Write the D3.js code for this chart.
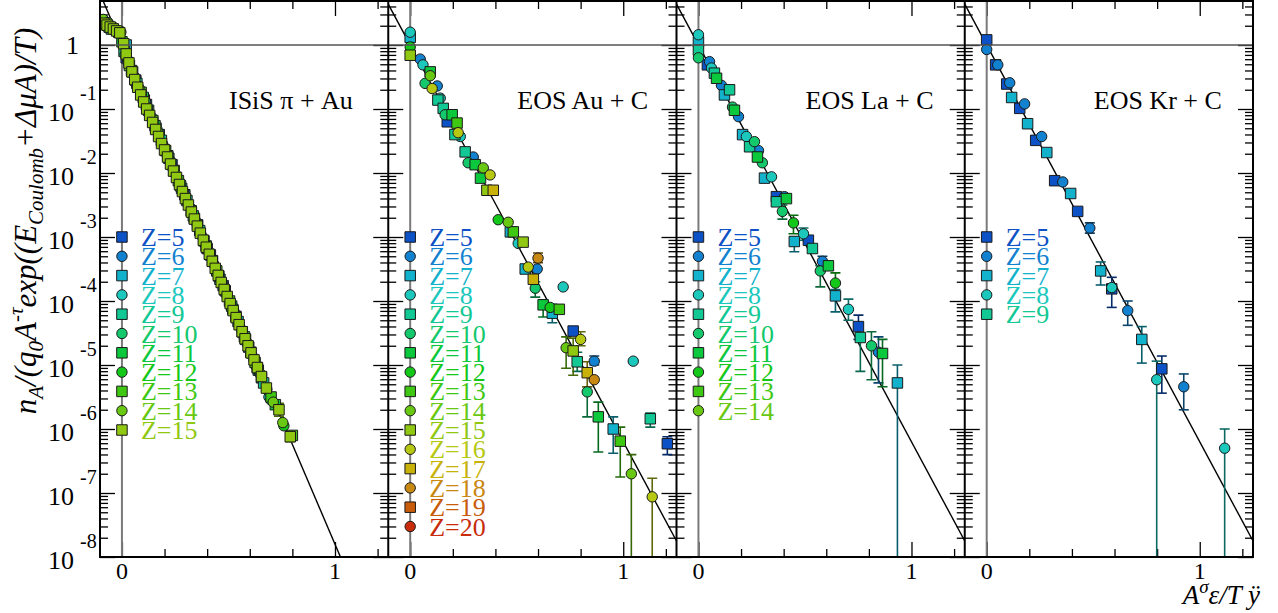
<!DOCTYPE html>
<html>
<head>
<meta charset="utf-8">
<script src="https://cdn.jsdelivr.net/npm/d3@7"></script>
<style>
body { margin: 0; background: #fff; }
svg { display: block; }
svg text { font-family: "Liberation Serif", "Times New Roman", Times, serif; }
</style>
</head>
<body>
<div id="chart"></div>
<script>
// ---- data ----
var panelTitles = ["ISiS \u03c0 + Au", "EOS Au + C", "EOS La + C", "EOS Kr + C"];
var legendMaxZ = [15, 20, 14, 9];
var fitIntercept = [0.0, 0.0, 0.0, 0.0];   // log10 at x = 0
var fitSlope = [-7.8, -6.2, -6.2, -6.2];   // decades per unit
var xTickLabels = ["0", "1"];
var yTickExps = [0, -1, -2, -3, -4, -5, -6, -7, -8];
var zColors = ["#0c52c6", "#1282d0", "#12b2cc", "#1cc8bc", "#12c894", "#14c86c",
               "#0cc83c", "#14c81a", "#3ec812", "#68c812", "#90c812", "#b6c812",
               "#c8b20a", "#c88812", "#c85c0a", "#c82c0a"];   // Z = 5 .. 20

// rows: [Z, x, log10(n), errLow, errHigh]
var isisPoints = [
  [5,0.02,-0.2],[5,0.065,-0.55],[5,0.115,-0.93],[5,0.175,-1.4],[5,0.235,-1.87],[5,0.295,-2.34],[5,0.355,-2.81],[5,0.415,-3.28],[5,0.475,-3.76],[5,0.535,-4.24],[5,0.595,-4.72],[5,0.655,-5.2],
  [6,0.03,-0.28],[6,0.085,-0.7],[6,0.14,-1.13],[6,0.2,-1.6],[6,0.26,-2.07],[6,0.32,-2.54],[6,0.38,-3.01],[6,0.44,-3.48],[6,0.5,-3.96],[6,0.56,-4.44],[6,0.62,-4.92],
  [7,0.02,0.0],[7,0.05,-0.42],[7,0.105,-0.86],[7,0.16,-1.3],[7,0.22,-1.77],[7,0.28,-2.24],[7,0.34,-2.71],[7,0.4,-3.18],[7,0.46,-3.66],[7,0.52,-4.13],[7,0.58,-4.6],[7,0.64,-5.08],
  [8,-0.02,0.2],[8,0.04,-0.36],[8,0.095,-0.8],[8,0.15,-1.22],[8,0.21,-1.7],[8,0.27,-2.17],[8,0.33,-2.64],[8,0.39,-3.11],[8,0.45,-3.58],[8,0.51,-4.06],[8,0.57,-4.54],[8,0.63,-5.02],[8,0.69,-5.5],
  [9,-0.05,0.25],[9,0.01,-0.1],[9,0.07,-0.6],[9,0.125,-1.02],[9,0.185,-1.49],[9,0.245,-1.96],[9,0.305,-2.43],[9,0.365,-2.9],[9,0.425,-3.37],[9,0.485,-3.84],[9,0.545,-4.32],[9,0.605,-4.8],[9,0.665,-5.28],
  [10,-0.08,0.3],[10,-0.03,0.22],[10,0.015,-0.15],[10,0.06,-0.5],[10,0.11,-0.88],[10,0.165,-1.32],[10,0.225,-1.8],[10,0.285,-2.27],[10,0.345,-2.74],[10,0.405,-3.21],[10,0.465,-3.68],[10,0.525,-4.16],[10,0.585,-4.64],[10,0.645,-5.12],[10,0.7,-5.55],
  [11,-0.06,0.28],[11,0.0,0.05],[11,0.045,-0.4],[11,0.1,-0.82],[11,0.155,-1.26],[11,0.215,-1.73],[11,0.275,-2.2],[11,0.335,-2.67],[11,0.395,-3.14],[11,0.455,-3.61],[11,0.515,-4.08],[11,0.575,-4.56],[11,0.635,-5.04],[11,0.72,-5.62],
  [12,-0.09,0.36],[12,-0.04,0.26],[12,0.025,-0.22],[12,0.075,-0.64],[12,0.13,-1.07],[12,0.19,-1.54],[12,0.25,-2.01],[12,0.31,-2.48],[12,0.37,-2.95],[12,0.43,-3.42],[12,0.49,-3.9],[12,0.55,-4.37],[12,0.61,-4.85],[12,0.68,-5.38],[12,0.76,-5.95],
  [13,-0.075,0.33],[13,-0.015,0.2],[13,0.035,-0.32],[13,0.09,-0.74],[13,0.145,-1.18],[13,0.205,-1.65],[13,0.265,-2.12],[13,0.325,-2.59],[13,0.385,-3.06],[13,0.445,-3.53],[13,0.505,-4.0],[13,0.565,-4.48],[13,0.625,-4.96],[13,0.7,-5.5],[13,0.8,-6.1],
  [14,-0.088,0.4],[14,-0.065,0.35],[14,-0.035,0.27],[14,-0.005,0.2],[14,0.03,-0.27],[14,0.08,-0.68],[14,0.12,-0.98],[14,0.17,-1.37],[14,0.23,-1.84],[14,0.29,-2.31],[14,0.35,-2.78],[14,0.41,-3.25],[14,0.47,-3.72],[14,0.53,-4.2],[14,0.59,-4.68],[14,0.65,-5.14],[14,0.71,-5.58],[14,0.755,-5.9],
  [15,-0.085,0.34],[15,-0.07,0.31],[15,-0.055,0.28],[15,-0.04,0.25],[15,-0.025,0.22],[15,-0.01,0.19],[15,0.008,0.02],[15,0.02,-0.14],
  [15,0.033,-0.28],[15,0.047,-0.42],[15,0.06,-0.54],[15,0.074,-0.66],[15,0.088,-0.78],[15,0.102,-0.89],[15,0.116,-1.0],[15,0.13,-1.1],
  [15,0.144,-1.21],[15,0.158,-1.32],[15,0.172,-1.43],[15,0.186,-1.54],[15,0.2,-1.64],[15,0.214,-1.75],[15,0.228,-1.86],[15,0.242,-1.97],
  [15,0.256,-2.07],[15,0.27,-2.18],[15,0.284,-2.29],[15,0.298,-2.4],[15,0.312,-2.5],[15,0.326,-2.61],[15,0.34,-2.72],[15,0.354,-2.83],
  [15,0.368,-2.94],[15,0.382,-3.05],[15,0.396,-3.16],[15,0.41,-3.27],[15,0.424,-3.38],[15,0.438,-3.49],[15,0.452,-3.6],[15,0.466,-3.71],
  [15,0.48,-3.82],[15,0.494,-3.93],[15,0.508,-4.04],[15,0.522,-4.15],[15,0.536,-4.26],[15,0.55,-4.37],[15,0.564,-4.48],[15,0.578,-4.59],
  [15,0.592,-4.7],[15,0.606,-4.81],[15,0.62,-4.92],[15,0.636,-5.04],[15,0.655,-5.18],[15,0.678,-5.36],[15,0.737,-5.7,-5.8,-5.6],[15,0.79,-6.12,-6.2,-6.04]
];

var auPoints = [
  [8,0,0.2],[7,0,0.12],[12,0,-0.03],[15,0,-0.16],
  [6,0.047,-0.22],[8,0.06,-0.31],[11,0.094,-0.42],[14,0.094,-0.48],[10,0.07,-0.6],[6,0.127,-0.64],
  [16,0.103,-0.68],[8,0.141,-0.83],[9,0.13,-0.86],[9,0.155,-0.99],[10,0.164,-1.09],[11,0.197,-1.09],
  [5,0.174,-1.2],[13,0.22,-1.22],[16,0.225,-1.37],[9,0.21,-1.4],[8,0.235,-1.43],[9,0.258,-1.67],
  [6,0.296,-1.75],[10,0.272,-1.84],[11,0.305,-1.87],[14,0.343,-1.92],[16,0.375,-2.03],[11,0.33,-2.08],
  [15,0.36,-2.27],[17,0.39,-2.27],[12,0.413,-2.73],[14,0.46,-2.77],[7,0.47,-2.92],[13,0.484,-2.92],
  [8,0.507,-3.1],[15,0.53,-3.08],[18,0.6,-3.33,-3.4,-3.25],[16,0.554,-3.47],[7,0.54,-3.5],[6,0.596,-3.5],
  [17,0.578,-3.66],[10,0.587,-3.8,-3.94,-3.7],[8,0.718,-3.78],[11,0.624,-4.06,-4.25,-3.98],[12,0.657,-4.1],
  [7,0.667,-4.19,-4.34,-4.05],[13,0.7,-4.13],[5,0.765,-4.47],[16,0.8,-4.6,-4.7,-4.48],[14,0.732,-4.73,-5.05,-4.56],
  [15,0.765,-4.78,-5.16,-4.58],[9,0.784,-4.95,-5.1,-4.8],[6,0.864,-4.94,-5.0,-4.86],[8,1.047,-4.94],
  [17,0.831,-5.12,-5.34,-4.95],[18,0.864,-5.23],[10,0.831,-5.42,-5.81,-5.34],[11,0.883,-5.81,-6.36,-5.58],
  [9,1.127,-5.84,-5.97,-5.75],[7,0.953,-6.0,-6.38,-5.81],[13,0.986,-6.19,-6.75,-5.97],[5,1.207,-6.23,-6.4,-6.12],
  [14,1.038,-6.7,-9,-6.4],[16,1.136,-7.06,-9,-6.77]
];

var laPoints = [
  [8,0,0.16],[7,0,0.05],[9,0,-0.08],[10,0,-0.2],[6,0.052,-0.26],[5,0.042,-0.31],[8,0.061,-0.36],
  [9,0.075,-0.44],[11,0.085,-0.52],[6,0.108,-0.63],[7,0.122,-0.78],[9,0.146,-0.7],[10,0.16,-0.97],
  [11,0.169,-1.02],[6,0.188,-1.12],[7,0.207,-1.4],[8,0.225,-1.43],[10,0.263,-1.51],[9,0.24,-1.59],
  [6,0.282,-1.65],[11,0.277,-1.75],[10,0.3,-1.84],[7,0.31,-2.08],[8,0.343,-2.06],[5,0.366,-2.37],
  [6,0.404,-2.37],[11,0.413,-2.4],[9,0.366,-2.45],[10,0.394,-2.6,-2.72,-2.5],[12,0.446,-2.78,-2.95,-2.66],
  [8,0.493,-2.95,-3.05,-2.86],[7,0.45,-3.07,-3.23,-3.0],[5,0.516,-3.05],[9,0.535,-3.18],
  [6,0.582,-3.38,-3.45,-3.3],[11,0.61,-3.45],[10,0.572,-3.53,-3.78,-3.45],[12,0.643,-3.72,-3.88,-3.56],
  [7,0.643,-3.92,-4.17,-3.82],[8,0.704,-4.13,-4.3,-3.97],[5,0.751,-4.4,-4.6,-4.22],[9,0.76,-4.57,-5.1,-4.5],
  [10,0.812,-4.7,-5.23,-4.48],[6,0.845,-4.8,-5.28,-4.56],[11,0.864,-4.82,-5.34,-4.6],[7,0.934,-5.28,-9,-5.0]
];

var krPoints = [
  [5,0,0.08],[6,0,-0.07],[5,0.042,-0.31],[6,0.052,-0.31],[5,0.094,-0.61],[6,0.108,-0.59],
  [7,0.117,-0.82],[6,0.178,-0.92],[5,0.155,-0.99],[7,0.192,-1.23],[6,0.258,-1.43],[5,0.23,-1.49],
  [7,0.282,-1.68],[5,0.319,-2.12],[6,0.357,-2.14],[7,0.394,-2.32],[5,0.427,-2.6],
  [6,0.484,-2.86,-2.94,-2.78],[7,0.535,-3.53,-3.75,-3.39],[5,0.587,-3.81,-4.1,-3.63],[8,0.587,-3.79],
  [6,0.662,-4.15,-4.38,-4.0],[7,0.728,-4.6,-4.97,-4.4],[5,0.822,-5.06,-5.44,-4.86],[8,0.798,-5.23,-9,-4.94],
  [6,0.925,-5.34,-5.7,-5.14],[8,1.117,-6.3,-9,-6.0]
];

var panelPoints = [isisPoints, auPoints, laPoints, krPoints];

// ---- layout ----
var W = 1278, H = 613;
var frameLeft = 100, frameRight = 1253, frameTop = 1, frameBottom = 557;
var panelW = (frameRight - frameLeft) / 4;

var svg = d3.select("#chart").append("svg")
    .attr("width", W)
    .attr("height", H)
    .attr("font-family", "'Liberation Serif', 'Times New Roman', Times, serif");

var y = d3.scaleLog()
    .domain([1e-8, Math.pow(10, 0.6875)])
    .range([frameBottom, frameTop]);

var minorY = [];
for (var e = -8; e <= 0; e++) {
    for (var m = 2; m <= 9; m++) {
        var v = m * Math.pow(10, e);
        if (v < y.domain()[1]) minorY.push(v);
    }
}
var majorY = yTickExps.map(function(d) { return Math.pow(10, d); });

function zColor(z) { return zColors[z - 5]; }

svg.append("defs").selectAll("clipPath")
    .data(d3.range(4))
    .enter().append("clipPath")
    .attr("id", function(d) { return "clip" + d; })
    .append("rect")
    .attr("x", function(d) { return frameLeft + d * panelW; })
    .attr("y", frameTop)
    .attr("width", panelW)
    .attr("height", frameBottom - frameTop);

d3.range(4).forEach(function(p) {
    var L = frameLeft + p * panelW, R = L + panelW;
    var x = d3.scaleLinear().domain([-0.103, 1.25]).range([L, R]);
    var g = svg.append("g");

    // ticks, all pointing inward
    function tickAxis(axis, vals, size, tr) {
        g.append("g")
            .attr("transform", tr)
            .call(axis.tickValues(vals).tickSize(size).tickFormat(""))
            .call(function(s) { s.select(".domain").remove(); })
            .selectAll("line").attr("stroke", "#000").attr("stroke-width", 1.3);
    }
    tickAxis(d3.axisRight(y), majorY, 15, "translate(" + L + ",0)");
    tickAxis(d3.axisRight(y), minorY, 8, "translate(" + L + ",0)");
    tickAxis(d3.axisLeft(y), majorY, 15, "translate(" + R + ",0)");
    tickAxis(d3.axisLeft(y), minorY, 8, "translate(" + R + ",0)");
    tickAxis(d3.axisTop(x), [0, 1], 15, "translate(0," + frameBottom + ")");
    tickAxis(d3.axisTop(x), [0.2, 0.4, 0.6, 0.8, 1.2], 8, "translate(0," + frameBottom + ")");
    tickAxis(d3.axisBottom(x), [0, 1], 15, "translate(0," + frameTop + ")");
    tickAxis(d3.axisBottom(x), [0.2, 0.4, 0.6, 0.8, 1.2], 8, "translate(0," + frameTop + ")");

    // x = 0 reference line
    g.append("line")
        .attr("x1", x(0)).attr("x2", x(0))
        .attr("y1", frameTop).attr("y2", frameBottom)
        .attr("stroke", "#7a7a7a").attr("stroke-width", 2);

    // x tick labels
    g.selectAll(".xlab")
        .data(xTickLabels)
        .enter().append("text")
        .attr("x", function(d) { return x(+d); })
        .attr("y", frameBottom + 22)
        .attr("text-anchor", "middle")
        .style("font-size", "24px")
        .text(function(d) { return d; });

    var inner = g.append("g").attr("clip-path", "url(#clip" + p + ")");

    // fit line
    var fx = [-0.103, 1.25];
    inner.append("path")
        .datum(fx)
        .attr("d", d3.line()
            .x(function(d) { return x(d); })
            .y(function(d) { return y(Math.pow(10, fitIntercept[p] + fitSlope[p] * d)); }))
        .attr("fill", "none")
        .attr("stroke", "#000")
        .attr("stroke-width", 1.4);

    var pts = panelPoints[p].slice().sort(function(a, b) { return a[0] - b[0]; });

    // error bars
    var eb = inner.selectAll(".err")
        .data(pts.filter(function(d) { return d.length > 3; }))
        .enter().append("g")
        .attr("stroke", function(d) { return d3.color(zColor(d[0])).darker(1.8); })
        .attr("stroke-width", 1.6);
    eb.append("line")
        .attr("x1", function(d) { return x(d[1]); })
        .attr("x2", function(d) { return x(d[1]); })
        .attr("y1", function(d) { return y(Math.pow(10, d[3])); })
        .attr("y2", function(d) { return y(Math.pow(10, d[4])); });
    eb.append("line")
        .attr("x1", function(d) { return x(d[1]) - 5; })
        .attr("x2", function(d) { return x(d[1]) + 5; })
        .attr("y1", function(d) { return y(Math.pow(10, d[4])); })
        .attr("y2", function(d) { return y(Math.pow(10, d[4])); });
    eb.filter(function(d) { return d[3] > -8.5; }).append("line")
        .attr("x1", function(d) { return x(d[1]) - 5; })
        .attr("x2", function(d) { return x(d[1]) + 5; })
        .attr("y1", function(d) { return y(Math.pow(10, d[3])); })
        .attr("y2", function(d) { return y(Math.pow(10, d[3])); });

    // markers
    inner.selectAll(".pt")
        .data(pts)
        .enter().append("path")
        .attr("transform", function(d) {
            return "translate(" + x(d[1]) + "," + y(Math.pow(10, d[2])) + ")";
        })
        .attr("d", function(d) {
            return d[0] % 2 ? d3.symbol(d3.symbolSquare, 110)() : d3.symbol(d3.symbolCircle, 85)();
        })
        .attr("fill", function(d) { return zColor(d[0]); })
        .attr("stroke", "#1a1a1a")
        .attr("stroke-width", 1);

    // legend
    var zs = d3.range(5, legendMaxZ[p] + 1);
    var leg = g.selectAll(".leg")
        .data(zs)
        .enter().append("g")
        .attr("transform", function(d, i) { return "translate(" + x(0) + "," + (237 + i * 19.3) + ")"; });
    leg.append("path")
        .attr("d", function(d) {
            return d % 2 ? d3.symbol(d3.symbolSquare, 110)() : d3.symbol(d3.symbolCircle, 85)();
        })
        .attr("fill", zColor)
        .attr("stroke", "#1a1a1a");
    leg.append("text")
        .attr("x", 19)
        .attr("y", 9)
        .attr("fill", zColor)
        .style("font-size", "26px")
        .text(function(d) { return "Z=" + d; });

    // panel title
    g.append("text")
        .attr("x", L + 129)
        .attr("y", 109)
        .style("font-size", "26px")
        .text(panelTitles[p]);
});

// y = 1 reference line
svg.append("line")
    .attr("x1", frameLeft).attr("x2", frameRight)
    .attr("y1", y(1)).attr("y2", y(1))
    .attr("stroke", "#555").attr("stroke-width", 1.5);

// frame and panel borders
svg.append("rect")
    .attr("x", frameLeft).attr("y", frameTop)
    .attr("width", frameRight - frameLeft).attr("height", frameBottom - frameTop)
    .attr("fill", "none").attr("stroke", "#000").attr("stroke-width", 2);
svg.selectAll(".sep")
    .data([1, 2, 3])
    .enter().append("line")
    .attr("x1", function(d) { return frameLeft + d * panelW; })
    .attr("x2", function(d) { return frameLeft + d * panelW; })
    .attr("y1", frameTop).attr("y2", frameBottom)
    .attr("stroke", "#000").attr("stroke-width", 2);

// y tick labels
var ylab = svg.selectAll(".ylab")
    .data(yTickExps)
    .enter().append("text")
    .attr("text-anchor", "end")
    .style("font-size", "26px");
ylab.filter(function(d) { return d === 0; })
    .attr("x", 79)
    .attr("y", function(d) { return y(1) + 9; })
    .text("1");
ylab.filter(function(d) { return d !== 0; })
    .attr("x", 74)
    .attr("y", function(d) { return y(Math.pow(10, d)) + 12; })
    .text("10");
svg.selectAll(".yexp")
    .data(yTickExps.filter(function(d) { return d !== 0; }))
    .enter().append("text")
    .attr("x", 80)
    .attr("y", function(d) { return y(Math.pow(10, d)) - 9; })
    .style("font-size", "20px")
    .text(function(d) { return String(d); });

// axis titles
var yt = svg.append("text")
    .attr("transform", "translate(36,221) rotate(-90)")
    .attr("text-anchor", "middle")
    .style("font-size", "31px")
    .style("font-style", "italic");
yt.append("tspan").text("n");
yt.append("tspan").attr("dy", 7).style("font-size", "21px").text("A");
yt.append("tspan").attr("dy", -7).text("/(q");
yt.append("tspan").attr("dy", 7).style("font-size", "21px").text("0");
yt.append("tspan").attr("dy", -7).text("A");
yt.append("tspan").attr("dy", -13).style("font-size", "21px").text("-\u03c4");
yt.append("tspan").attr("dy", 13).text("exp((E");
yt.append("tspan").attr("dy", 7).style("font-size", "21px").text("Coulomb");
yt.append("tspan").attr("dy", -7).text("+\u0394\u03bcA)/T)");

var xt = svg.append("text")
    .attr("x", 1260)
    .attr("y", 604)
    .attr("text-anchor", "end")
    .style("font-size", "27px")
    .style("font-style", "italic");
xt.append("tspan").text("A");
xt.append("tspan").attr("dy", -11).style("font-size", "19px").text("\u03c3");
xt.append("tspan").attr("dy", 11).text("\u03b5/T \u00ff");
</script>
</body>
</html>
